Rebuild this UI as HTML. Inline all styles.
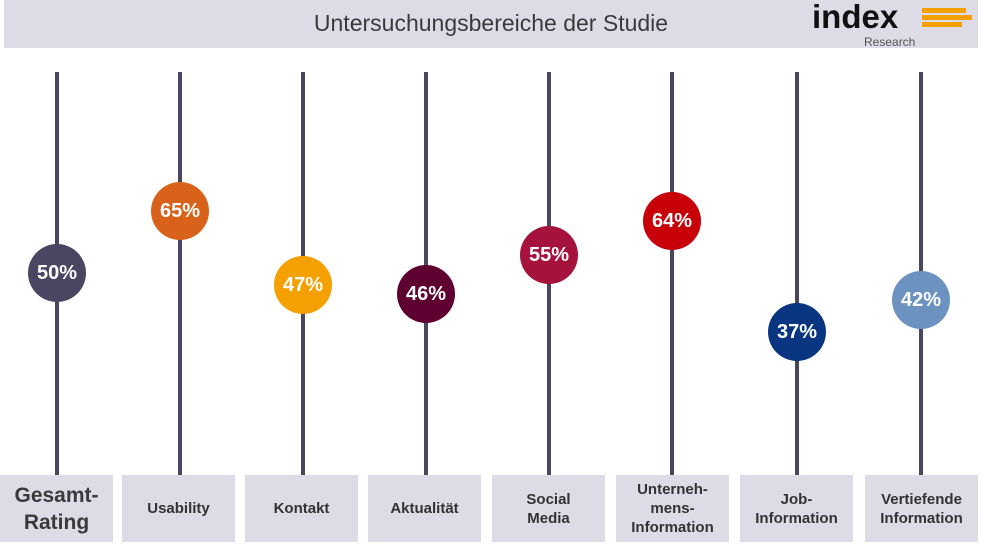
<!DOCTYPE html>
<html><head><meta charset="utf-8"><style>
body{margin:0;width:982px;height:550px;background:#fff;font-family:"Liberation Sans",sans-serif;position:relative;overflow:hidden}
.bar{position:absolute;left:4px;top:0;width:974px;height:48px;background:#dddbe6}
.title{position:absolute;left:0;width:982px;top:10px;text-align:center;font-size:23px;color:#3a3a3a}
.line{position:absolute;top:72px;width:4px;height:404px;background:#4a4560}
.c{position:absolute;width:58px;height:58px;border-radius:50%;color:#fff;font-weight:bold;font-size:20px;line-height:58px;text-align:center}
.b{position:absolute;top:475px;width:113px;height:67px;background:#dddbe6;display:flex;align-items:center;justify-content:center;text-align:center;font-weight:bold;font-size:15px;color:#333;line-height:19px}
</style></head><body>
<div class="bar"></div>
<div class="title">Untersuchungsbereiche der Studie</div>
<div style="position:absolute;left:812px;top:-2px;font-size:33px;font-weight:bold;color:#111;letter-spacing:0px">index</div>
<div style="position:absolute;left:922px;top:8px;width:44px;height:5px;background:#f4a000"></div>
<div style="position:absolute;left:922px;top:15px;width:50px;height:5px;background:#f4a000"></div>
<div style="position:absolute;left:922px;top:22px;width:40px;height:5px;background:#f4a000"></div>
<div style="position:absolute;left:864px;top:35px;font-size:12px;color:#555">Research</div>

<div class="line" style="left:55px"></div>
<div class="line" style="left:178px"></div>
<div class="line" style="left:301px"></div>
<div class="line" style="left:424px"></div>
<div class="line" style="left:547px"></div>
<div class="line" style="left:670px"></div>
<div class="line" style="left:795px"></div>
<div class="line" style="left:919px"></div>

<div class="c" style="left:28px;top:244px;background:#4a4560">50%</div>
<div class="c" style="left:151px;top:182px;background:#d9621a">65%</div>
<div class="c" style="left:274px;top:256px;background:#f4a000">47%</div>
<div class="c" style="left:397px;top:265px;background:#5e0030">46%</div>
<div class="c" style="left:520px;top:226px;background:#a5123c">55%</div>
<div class="c" style="left:643px;top:192px;background:#c8000a">64%</div>
<div class="c" style="left:768px;top:303px;background:#0a3580">37%</div>
<div class="c" style="left:892px;top:271px;background:#6c93c0">42%</div>

<div class="b" style="left:0;font-size:21px;line-height:27px;color:#3a3a3a">Gesamt-<br>Rating</div>
<div class="b" style="left:122px">Usability</div>
<div class="b" style="left:245px">Kontakt</div>
<div class="b" style="left:368px">Aktualität</div>
<div class="b" style="left:492px">Social<br>Media</div>
<div class="b" style="left:616px">Unterneh-<br>mens-<br>Information</div>
<div class="b" style="left:740px">Job-<br>Information</div>
<div class="b" style="left:865px">Vertiefende<br>Information</div>
</body></html>
